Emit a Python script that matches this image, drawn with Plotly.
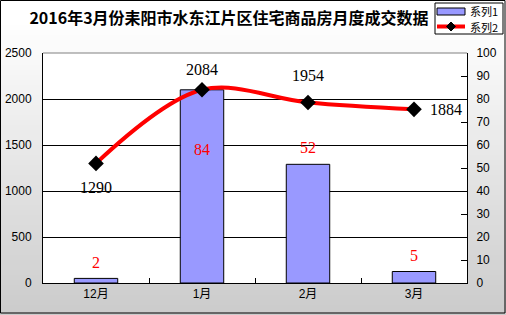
import plotly.graph_objects as go

categories = ["12月", "1月", "2月", "3月"]
bar_values = [50, 2100, 1290, 125]
line_values = [52, 84, 78.5, 75.5]
bar_labels = ["2", "84", "52", "5"]
line_labels = ["1290", "2084", "1954", "1884"]
series_names = ["系列1", "系列2"]
bar_label_shift = [16, -60, 17, 16]
line_label_shift = [(0, -24), (0, 20), (0, 27), (32, 0)]

W, H = 506, 315
L, R, T, B = 43, 39, 53, 32
PW, PH = W - L - R, H - T - B

BAR_COLOR = "#9999FF"
LINE_COLOR = "#FF0000"


def px_x(p):
    return (p - L) / PW


def px_y(p):
    return (H - B - p) / PH


fig = go.Figure()
fig.add_trace(go.Bar(x=categories, y=bar_values, name=series_names[0],
                     marker=dict(color=BAR_COLOR, line=dict(color="black", width=1))))
fig.add_trace(go.Scatter(x=categories, y=line_values, name=series_names[1], yaxis="y2",
                         mode="lines+markers",
                         line=dict(color=LINE_COLOR, width=4, shape="spline", smoothing=1),
                         marker=dict(symbol="diamond", size=12, color="black")))

shapes = []
# gradient background
n = 63
for i in range(n):
    y0p = H * i / n
    y1p = H * (i + 1) / n
    t = max(0.0, (y0p - 20) / (313 - 20))
    c = int(round(255 - t * 52))
    shapes.append(dict(type="rect", xref="paper", yref="paper", layer="below",
                       x0=px_x(0), x1=px_x(W), y0=px_y(y1p + 0.5), y1=px_y(y0p),
                       fillcolor=f"rgb({c},{c},{c})", line=dict(width=0)))
shapes.append(dict(type="rect", xref="paper", yref="paper", layer="below",
                   x0=0, x1=1, y0=0, y1=1, fillcolor="white", line=dict(width=0)))
shapes.append(dict(type="line", xref="paper", yref="paper", x0=0, x1=1, y0=1, y1=1,
                   line=dict(color="#808080", width=1)))
shapes.append(dict(type="rect", xref="paper", yref="paper",
                   x0=px_x(0.5), x1=px_x(505), y0=px_y(313), y1=px_y(0.5),
                   line=dict(color="black", width=1)))

# custom legend
shapes.append(dict(type="rect", xref="paper", yref="paper",
                   x0=px_x(435), x1=px_x(503), y0=px_y(34), y1=px_y(3),
                   fillcolor="white", line=dict(color="black", width=1)))
shapes.append(dict(type="rect", xref="paper", yref="paper",
                   x0=px_x(437), x1=px_x(465), y0=px_y(15), y1=px_y(8),
                   fillcolor=BAR_COLOR, line=dict(color="black", width=1)))
shapes.append(dict(type="line", xref="paper", yref="paper",
                   x0=px_x(437), x1=px_x(465), y0=px_y(26.5), y1=px_y(26.5),
                   line=dict(color=LINE_COLOR, width=4)))
dx, dy = 4.5 / PW, 4.5 / PH
cx, cy = px_x(451), px_y(26.5)
shapes.append(dict(type="path", xref="paper", yref="paper",
                   path=f"M {cx-dx} {cy} L {cx} {cy+dy} L {cx+dx} {cy} L {cx} {cy-dy} Z",
                   fillcolor="black", line=dict(color="black", width=1)))

annotations = []
num_font = dict(family="Liberation Serif, Noto Sans CJK SC", size=16)
for c, v, lab, s in zip(categories, bar_values, bar_labels, bar_label_shift):
    annotations.append(dict(x=c, y=v, xref="x", yref="y", text=lab, showarrow=False,
                            yshift=s, font=dict(num_font, color="#FF0000")))
for c, v, lab, (sx, sy) in zip(categories, line_values, line_labels, line_label_shift):
    annotations.append(dict(x=c, y=v, xref="x", yref="y2", text=lab, showarrow=False,
                            xshift=sx, yshift=sy, font=dict(num_font, color="black")))
leg_font = dict(family="Noto Sans CJK SC", size=11, color="black")
for name, ypx in zip(series_names, [11, 27]):
    annotations.append(dict(x=px_x(468), y=px_y(ypx), xref="paper", yref="paper",
                            xanchor="left", yanchor="middle", text=name,
                            showarrow=False, font=leg_font))

tick_font = dict(family="Liberation Sans, Noto Sans CJK SC", size=12, color="black")

fig.update_layout(
    width=W, height=H,
    margin=dict(l=L, r=R, t=T, b=B, pad=0),
    paper_bgcolor="white", plot_bgcolor="white",
    title=dict(text="<b>2016年3月份耒阳市水东江片区住宅商品房月度成交数据</b>",
               x=229 / W, xanchor="center", y=1 - 18 / H, yanchor="middle",
               font=dict(family="Noto Sans CJK SC", size=16, color="black")),
    bargap=0.59,
    showlegend=False,
    xaxis=dict(showline=True, linecolor="black", linewidth=1, ticks="inside",
               tickson="boundaries", ticklen=5, tickcolor="black",
               tickfont=tick_font, showgrid=False, automargin=False),
    yaxis=dict(range=[0, 2500], dtick=500, showline=True, linecolor="black",
               showgrid=True, gridcolor="black", gridwidth=1, zeroline=False,
               ticks="", tickfont=tick_font, ticklabelstandoff=8, automargin=False),
    yaxis2=dict(range=[0, 100], dtick=10, overlaying="y", side="right",
                showline=True, linecolor="black", showgrid=False, zeroline=False,
                ticks="inside", ticklen=6, tickcolor="black", tickfont=tick_font,
                ticklabelstandoff=6, automargin=False),
    shapes=shapes,
    annotations=annotations,
)

fig.write_html("out.html")
